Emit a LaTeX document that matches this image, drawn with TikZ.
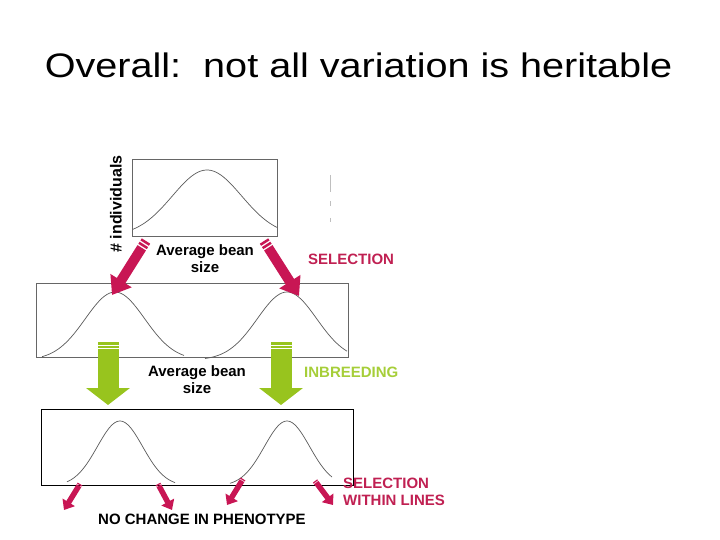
\documentclass[tikz,border=0pt]{standalone}
\usepackage{fontspec}
\setmainfont{Liberation Sans}
\usepackage{graphicx}
\usepackage{tikz}
\usetikzlibrary{arrows.meta, positioning}

\definecolor{selred}{RGB}{200,22,84}
\definecolor{seltext}{RGB}{192,32,82}
\definecolor{inbgreen}{RGB}{152,196,30}
\definecolor{inbtext}{RGB}{166,206,57}

\tikzset{
    panel/.style={draw=black!60, line width=0.8pt},
    bell/.style={draw=black!65, line width=0.7pt},
    lab/.style={font=\fontsize{15}{17}\selectfont\bfseries, inner sep=0pt, align=center},
    bigred/.style={selred, line width=10pt,
        dash pattern=on 2.5pt off 1.5pt on 2.5pt off 1.5pt on 300pt off 0pt,
        -{Triangle[width=24pt,length=17pt]}},
    biggreen/.style={inbgreen, line width=21pt,
        dash pattern=on 2.5pt off 1.2pt on 2.5pt off 1.2pt on 300pt off 0pt,
        -{Triangle[width=43pt,length=17pt]}},
    smallred/.style={selred, line width=5.5pt,
        dash pattern=on 1.2pt off 0.8pt on 100pt off 0pt,
        -{Triangle[width=14pt,length=9pt]}}
}

\begin{document}
\begin{tikzpicture}[x=1pt, y=-1pt]
    \useasboundingbox (0,0) rectangle (720,540);

    \node[anchor=base, font=\fontsize{34}{40}\selectfont] (title) at (358.5,78)
        {\scalebox{1.165}[1]{Overall:\ \ not all variation is heritable}};

    % panels
    \draw[panel] (132,159) rectangle (277,236);
    \draw[panel] (36,283) rectangle (348,357);
    \draw[panel, draw=black] (41,409) rectangle (353,485);

    % distributions
    \draw[bell] plot[domain=133:277, samples=60]
        (\x, {236-66*exp(-((\x-207)/49)*((\x-207)/49))});
    \draw[bell] plot[domain=42:184, samples=60]
        (\x, {360-68*exp(-((\x-115)/42)*((\x-115)/42))});
    \draw[bell] plot[domain=205:347, samples=60]
        (\x, {360-68*exp(-((\x-287)/42)*((\x-287)/42))});
    \draw[bell] plot[domain=67:175, samples=60]
        (\x, {486-65*exp(-((\x-120)/32)*((\x-120)/32))});
    \draw[bell] plot[domain=230:332, samples=60]
        (\x, {486-65*exp(-((\x-287)/32)*((\x-287)/32))});

    % faint marks
    \draw[black!25, line width=1pt] (330,175) -- (330,192);
    \draw[black!25, line width=1pt] (330,201) -- (330,206);
    \draw[black!25, line width=1pt] (330,218) -- (330,222);

    % arrows
    \coordinate (selLtail) at (146,241);
    \coordinate (selLtip) at (112,295);
    \coordinate (selRtail) at (264,241);
    \coordinate (selRtip) at (299,296);
    \coordinate (inbLtail) at (108,342);
    \coordinate (inbLtip) at (108,405);
    \coordinate (inbRtail) at (281,342);
    \coordinate (inbRtip) at (281,405);
    \coordinate (winAtail) at (80,484);
    \coordinate (winAtip) at (64,510);
    \coordinate (winBtail) at (158,484);
    \coordinate (winBtip) at (172,510);
    \coordinate (winCtail) at (243,479);
    \coordinate (winCtip) at (227,505);
    \coordinate (winDtail) at (315,481);
    \coordinate (winDtip) at (333,505);

    \draw[bigred] (selLtail) -- (selLtip);
    \draw[bigred] (selRtail) -- (selRtip);
    \draw[biggreen] (inbLtail) -- (inbLtip);
    \draw[biggreen] (inbRtail) -- (inbRtip);
    \draw[smallred] (winAtail) -- (winAtip);
    \draw[smallred] (winBtail) -- (winBtip);
    \draw[smallred] (winCtail) -- (winCtip);
    \draw[smallred] (winDtail) -- (winDtip);

    % labels
    \node[lab, rotate=90, font=\fontsize{16}{18}\selectfont\bfseries] (yaxis) at (116,204) {\# individuals};
    \node[lab] (sizeTop) at (205,259) {Average bean\\size};
    \node[lab] (sizeMid) at (197,379.5) {Average bean\\size};
    \node[lab, text=seltext, anchor=base west] (selection) at (308,264) {SELECTION};
    \node[lab, text=inbtext, anchor=base west] (inbreeding) at (304,377) {INBREEDING};
    \node[lab, text=seltext, anchor=west, align=left] (within) at (343,492)
        {SELECTION\\WITHIN LINES};
    \node[lab, anchor=base] (nochange) at (202,524) {NO CHANGE IN PHENOTYPE};
\end{tikzpicture}
\end{document}
